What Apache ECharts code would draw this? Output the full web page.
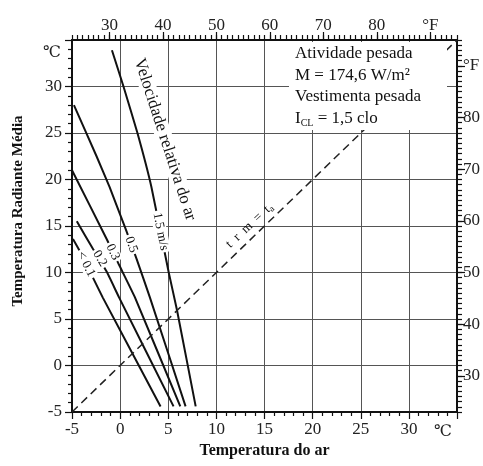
<!DOCTYPE html>
<html>
<head>
<meta charset="utf-8">
<script src="https://cdn.jsdelivr.net/npm/echarts@6/dist/echarts.min.js"></script>
<style>
html,body{margin:0;padding:0;background:#fff;}
#chart{width:483px;height:466px;}
</style>
</head>
<body>
<div id="chart"></div>
<script>
// curvas de velocidade relativa do ar: [temperatura do ar, temperatura radiante media] em C
var velMenor01 = [[-4.9,13.6],[-4.3,12.5],[-2.8,9.4],[-1.8,7.3],[4.2,-4.4]];
var vel02 = [[-4.5,15.5],[-2.8,12.5],[-1.4,10.1],[-0.1,7.3],[5.55,-4.4]];
var vel03 = [[-5,21],[-1.4,13.6],[-0.1,10.8],[1.55,7.3],[6.25,-4.4]];
var vel05 = [[-4.8,28.0],[-2.45,22.5],[-1.1,19.2],[0.6,14.6],[1.7,11.5],[3.1,7.3],[6.8,-4.4]];
var vel15 = [[-0.85,33.9],[0.35,30],[1.8,25],[3.25,19.2],[5.05,10],[5.9,6],[7.85,-4.4]];
var trmIgualTa = [[-5,-5],[35,35]];

var curvas = [velMenor01, vel02, vel03, vel05, vel15];
var rotulos = ['< 0.1', '0.2', '0.3', '0.5', '1.5 m/s'];
var rotuloPos = [[-3.55,10.9],[-2.1,11.5],[-0.75,12.2],[1.15,13.0],[4.2,14.4]];

var ticksF = [30,40,50,60,70,80,90];

var serif = "'Liberation Serif', 'DejaVu Serif', serif";
var dom = document.getElementById('chart');
var myChart = echarts.init(dom);

function eixoC(pos) {
  return {
    type: 'value', position: pos, min: -5, max: 35, interval: 5,
    axisLine: {show: true, onZero: false, lineStyle: {color: '#111', width: 2}},
    axisTick: {show: true, length: 7, lineStyle: {color: '#111', width: 1.2}},
    minorTick: {show: true, splitNumber: 5, length: 4, lineStyle: {color: '#111', width: 1.2}},
    splitLine: {show: true, lineStyle: {color: '#555', width: 1}},
    axisLabel: {
      fontFamily: serif, fontSize: 17, color: '#222',
      margin: pos == 'left' ? 10 : 9,
      formatter: function (v) { return v == 35 ? '' : v; }
    }
  };
}

function eixoF(pos) {
  return {
    type: 'value', position: pos, min: 23, max: 95, interval: 1,
    axisLine: {show: true, onZero: false, lineStyle: {color: '#111', width: 2}},
    axisTick: {show: true, length: 5, lineStyle: {color: '#111', width: 1.2}},
    splitLine: {show: false},
    axisLabel: {
      fontFamily: serif, fontSize: 17, color: '#222', margin: 6,
      formatter: function (v) {
        if (v % 10 != 0) return '';
        return v == 90 ? '°F' : v;
      }
    }
  };
}

function eixoFLongo(pos) {
  return {
    type: 'value', position: pos, min: 23, max: 95,
    axisLine: {show: false, onZero: false},
    axisTick: {show: true, length: 8, customValues: ticksF, lineStyle: {color: '#111', width: 1.2}},
    axisLabel: {show: false},
    splitLine: {show: false}
  };
}

var xC = eixoC('bottom');
xC.name = 'Temperatura do ar';
xC.nameLocation = 'middle';
xC.nameGap = 28;
xC.nameTextStyle = {fontFamily: serif, fontSize: 16, fontWeight: 'bold', color: '#111'};

var yC = eixoC('left');
yC.name = 'Temperatura Radiante Média';
yC.nameLocation = 'middle';
yC.nameGap = 46;
yC.nameTextStyle = {fontFamily: serif, fontSize: 15, fontWeight: 'bold', color: '#111', padding: [0, 0, 0, 30]};

var series = curvas.map(function (c, i) {
  return {
    name: rotulos[i], type: 'line', data: c, showSymbol: false, smooth: 0.1,
    lineStyle: {color: '#111', width: 2}, z: 2
  };
});
series.push({
  name: 'trm = ta', type: 'line', data: trmIgualTa, showSymbol: false,
  lineStyle: {color: '#222', width: 1.5, type: [8, 5]}, z: 2
});

var option = {
  animation: false,
  backgroundColor: '#fff',
  grid: {left: 72, right: 24, top: 40, bottom: 54},
  xAxis: [xC, eixoF('top'), eixoFLongo('top')],
  yAxis: [yC, eixoF('right'), eixoFLongo('right')],
  series: series
};
myChart.setOption(option);

// rotulos e anotacoes
function px(p) { return myChart.convertToPixel({gridIndex: 0}, p); }
function angulo(curva, y) {
  for (var k = 0; k < curva.length - 1; k++) {
    if (y <= curva[k][1] && y >= curva[k + 1][1]) {
      var a = px(curva[k]), b = px(curva[k + 1]);
      return -Math.atan2(b[1] - a[1], b[0] - a[0]);
    }
  }
  return 0;
}

var graficos = [];
rotulos.forEach(function (r, i) {
  var p = px(rotuloPos[i]);
  graficos.push({
    type: 'text', x: p[0], y: p[1], rotation: angulo(curvas[i], rotuloPos[i][1]), z: 10,
    style: {text: r, fontFamily: serif, fontSize: 13, fill: '#111', align: 'center', verticalAlign: 'middle',
      backgroundColor: '#fff', padding: [0, 2]}
  });
});

var pv = px([4.65, 24.3]);
graficos.push({
  type: 'text', x: pv[0], y: pv[1], rotation: -72 * Math.PI / 180, z: 10,
  style: {text: 'Velocidade relativa do ar', fontFamily: serif, fontSize: 17, fill: '#111',
    align: 'center', verticalAlign: 'middle', backgroundColor: '#fff', padding: [0, 3]}
});

var pt = px([13.45, 15.05]);
graficos.push({
  type: 'text', x: pt[0], y: pt[1], rotation: 43 * Math.PI / 180, z: 10,
  style: {text: 't  r  m  =  t{s|a}', fontFamily: serif, fontSize: 13, fill: '#111',
    align: 'center', verticalAlign: 'middle',
    rich: {s: {fontFamily: serif, fontSize: 9, fill: '#111', verticalAlign: 'bottom', padding: [6, 0, 0, 0]}}}
});

// caixa com as condicoes
graficos.push({type: 'rect', shape: {x: 289, y: 42, width: 158, height: 88}, style: {fill: '#fff'}, z: 5});
graficos.push({
  type: 'text', x: 295, y: 43, z: 6,
  style: {
    text: 'Atividade pesada\nM = 174,6 W/m²\nVestimenta pesada\nI{s|CL} = 1,5 clo',
    fontFamily: serif, fontSize: 17, lineHeight: 21.5, fill: '#111',
    rich: {s: {fontFamily: serif, fontSize: 10, fill: '#111', lineHeight: 21.5, padding: [10, 0, 0, 0]}}
  }
});

graficos.push({type: 'text', x: 52, y: 53, z: 6,
  style: {text: '℃', fontFamily: serif, fontSize: 16, fill: '#222', align: 'center', verticalAlign: 'middle'}});
graficos.push({type: 'text', x: 443, y: 432, z: 6,
  style: {text: '℃', fontFamily: serif, fontSize: 16, fill: '#222', align: 'center', verticalAlign: 'middle'}});

myChart.setOption({graphic: graficos});
</script>
</body>
</html>
